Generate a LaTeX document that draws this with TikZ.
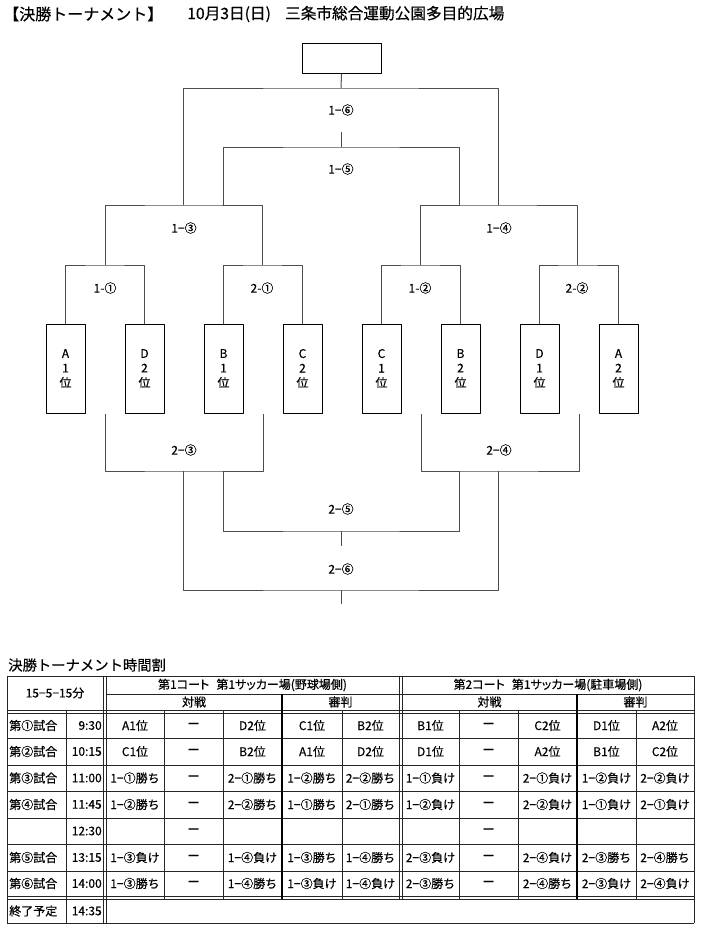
\documentclass[tikz,border=0pt]{standalone}
\usepackage{fontspec}
\setmainfont{Noto Sans CJK JP}[FakeBold=0.4]
\newfontfamily\pfont{Noto Sans CJK JP}[RawFeature={+palt},FakeBold=0.4]
\usetikzlibrary{calc}

\begin{document}
\begin{tikzpicture}
    [x=0.75pt,y=-0.75pt,line join=bevel,
     teambox/.style={draw,line width=0.75pt,minimum width=29.25pt,minimum height=66.75pt,
       inner sep=0pt,align=center,font=\fontsize{9}{10.9}\selectfont},
     bracket/.style={draw=black!70,line width=0.75pt},
     lbl/.style={inner sep=0pt,font=\fontsize{9}{10}\selectfont},
     cell/.style={inner sep=0pt,font=\fontsize{9}{10}\selectfont},
     grid/.style={draw=black!85,line width=0.75pt},
     heavy/.style={draw=black,line width=2.2pt}]

    \useasboundingbox (0,0) rectangle (700,928);

    \node[anchor=west,inner sep=0pt,font=\fontsize{12}{14}\selectfont] (title) at (3,14) {【決勝トーナメント】};
    \node[anchor=west,inner sep=0pt,font=\fontsize{11.75}{14}\selectfont] (venue) at (187,14) {10月3日(日)\hspace{0.9em}三条市総合運動公園多目的広場};

    % bracket
    \node[draw,line width=0.75pt,minimum width=59.25pt,minimum height=22.5pt,inner sep=0pt] (champ) at (341.5,58) {};

    \foreach \i/\grp/\rank in {0/A/1,1/D/2,2/B/1,3/C/2,4/C/1,5/B/2,6/D/1,7/A/2}
      \node[teambox] (t\i) at (65.5+79*\i,368.5) {\grp\\\rank\\位};

    \coordinate (m11) at (105,265);
    \coordinate (m21) at (262,265);
    \coordinate (m12) at (420,265);
    \coordinate (m22) at (577,265);
    \coordinate (m13) at (183,205);
    \coordinate (m14) at (498,205);
    \coordinate (f13) at (223,205);
    \coordinate (f14) at (459,205);
    \coordinate (m15) at (341,147);
    \coordinate (s15) at (341,132);
    \coordinate (m16) at (341,88);

    \draw[bracket] (t0.north) |- (m11) -| (t1.north);
    \draw[bracket] (t2.north) |- (m21) -| (t3.north);
    \draw[bracket] (t4.north) |- (m12) -| (t5.north);
    \draw[bracket] (t6.north) |- (m22) -| (t7.north);
    \draw[bracket] (m11) |- (m13) -| (m21);
    \draw[bracket] (m12) |- (m14) -| (m22);
    \draw[bracket] (f13) |- (m15) -| (f14);
    \draw[bracket] (m15) -- (s15);
    \draw[bracket] (m13) |- (m16) -| (m14);
    \draw[bracket] (m16) -- (champ.south);

    \coordinate (n13) at (183,471);
    \coordinate (n14) at (498,471);
    \coordinate (g13) at (223,471);
    \coordinate (g14) at (459,471);
    \coordinate (n15) at (341,531);
    \coordinate (s25) at (341,546);
    \coordinate (n16) at (341,590);
    \coordinate (s26) at (341,604);

    \draw[bracket] ($(t0.south)!.5!(t1.south)$) |- (n13) -| ($(t2.south)!.5!(t3.south)$);
    \draw[bracket] ($(t4.south)!.5!(t5.south)$) |- (n14) -| ($(t6.south)!.5!(t7.south)$);
    \draw[bracket] (g13) |- (n15) -| (g14);
    \draw[bracket] (n15) -- (s25);
    \draw[bracket] (n13) |- (n16) -| (n14);
    \draw[bracket] (n16) -- (s26);

    \node[lbl] (l16) at (341,110) {1−⑥};
    \node[lbl] (l15) at (341,169) {1−⑤};
    \node[lbl] (l13) at (184,228) {1−③};
    \node[lbl] (l14) at (499,228) {1−④};
    \node[lbl] (l11) at (105,288) {1-①};
    \node[lbl] (l21) at (262,288) {2-①};
    \node[lbl] (l12) at (420,288) {1-②};
    \node[lbl] (l22) at (577,288) {2-②};
    \node[lbl] (l23) at (184,450) {2−③};
    \node[lbl] (l24) at (499,450) {2−④};
    \node[lbl] (l25) at (341,509) {2−⑤};
    \node[lbl] (l26) at (341,569) {2−⑥};

    % timetable
    \node[anchor=west,inner sep=0pt,font=\fontsize{10.75}{13}\selectfont] (ttitle) at (8,665) {決勝トーナメント時間割};

    \draw[grid] (7,676) -- (694,676);
    \draw[grid] (106,694) -- (694,694);
    \foreach \y in {710,713,738,765,791,818,844,871,896,899,923}
      \draw[grid] (7,\y) -- (694,\y);
    \foreach \x in {7,103,106,694}
      \draw[grid] (\x,676) -- (\x,923);
    \draw[grid] (66,710) -- (66,923);
    \foreach \x in {399,402}
      \draw[grid] (\x,676) -- (\x,899);
    \foreach \x in {164,223,342,459,518,636}
      \draw[grid] (\x,710) -- (\x,899);
    \foreach \x in {282,577}
      \draw[heavy] (\x,694) -- (\x,899);

    \node[cell] (rule) at (55,693) {15−5−15分};
    \node[cell,font=\pfont\fontsize{9}{10}\selectfont] (court1) at (252.5,685) {第1コート\hspace{0.6em}第1サッカー場(野球場側)};
    \node[cell,font=\pfont\fontsize{9}{10}\selectfont] (court2) at (548,685) {第2コート\hspace{0.6em}第1サッカー場(駐車場側)};
    \node[cell] (match1) at (194,702) {対戦};
    \node[cell] (ref1) at (340.5,702) {審判};
    \node[cell] (match2) at (489.5,702) {対戦};
    \node[cell] (ref2) at (635.5,702) {審判};

    \foreach \r/\y/\game/\tm/\cells in {
        1/725.5/第①試合/9:30/{A1位,ー,D2位,C1位,B2位,B1位,ー,C2位,D1位,A2位},
        2/751.5/第②試合/10:15/{C1位,ー,B2位,A1位,D2位,D1位,ー,A2位,B1位,C2位},
        3/778/第③試合/11:00/{1−①勝ち,ー,2−①勝ち,1−②勝ち,2−②勝ち,1−①負け,ー,2−①負け,1−②負け,2−②負け},
        4/804.5/第④試合/11:45/{1−②勝ち,ー,2−②勝ち,1−①勝ち,2−①勝ち,1−②負け,ー,2−②負け,1−①負け,2−①負け},
        5/831/{}/12:30/{{},ー,{},{},{},{},ー,{},{},{}},
        6/857.5/第⑤試合/13:15/{1−③負け,ー,1−④負け,1−③勝ち,1−④勝ち,2−③負け,ー,2−④負け,2−③勝ち,2−④勝ち},
        7/883.5/第⑥試合/14:00/{1−③勝ち,ー,1−④勝ち,1−③負け,1−④負け,2−③勝ち,ー,2−④勝ち,2−③負け,2−④負け}}
    {
      \node[cell,anchor=west] (g\r) at (9,\y) {\game};
      \node[cell,anchor=east] (tm\r) at (102,\y) {\tm};
      \foreach \txt [count=\k] in \cells {
        \pgfmathsetmacro\cx{{135,193.5,252.5,312,370.5,430.5,488.5,547.5,606.5,665}[\k-1]}
        \node[cell] (c\r-\k) at (\cx,\y) {\txt};
      }
    }
    \node[cell,anchor=west] (g8) at (9,911) {終了予定};
    \node[cell,anchor=east] (tm8) at (102,911) {14:35};
  \end{tikzpicture}
\end{document}
